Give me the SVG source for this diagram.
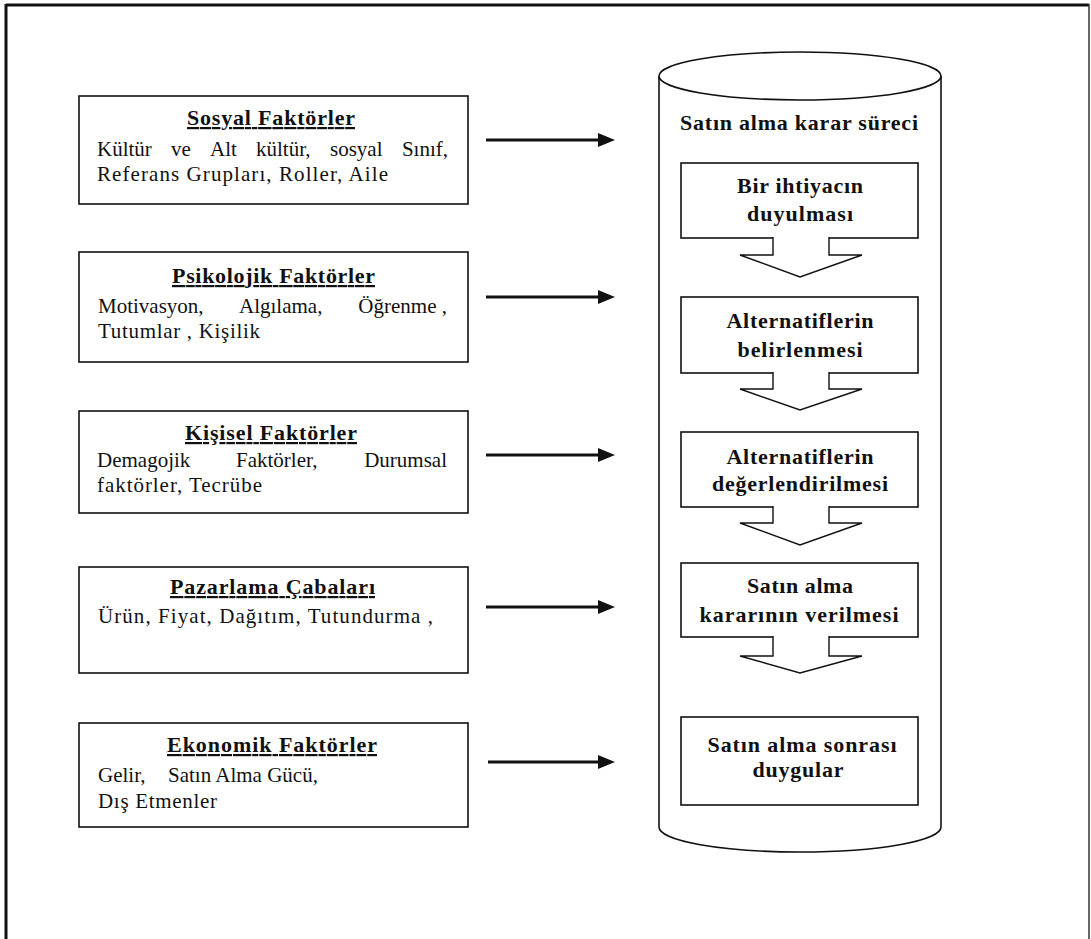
<svg xmlns="http://www.w3.org/2000/svg" width="1091" height="939" viewBox="0 0 1091 939">
<style>
.box{fill:#fff;stroke:#111;stroke-width:1.6}
.t{font-family:"Liberation Serif","Times New Roman",serif;font-size:21px;fill:#111}
.e{text-anchor:end}
.h{font-family:"Liberation Serif","Times New Roman",serif;font-size:22px;font-weight:bold;fill:#111;text-decoration:underline}
.b{font-family:"Liberation Serif","Times New Roman",serif;font-size:22px;font-weight:bold;fill:#111;text-anchor:middle}
.conn{stroke:#111;stroke-width:3;fill:none;marker-end:url(#ah)}
.blk{fill:#fff;stroke:#111;stroke-width:1.4}
</style>
<defs>
<marker id="ah" markerUnits="userSpaceOnUse" markerWidth="20" markerHeight="20" refX="2" refY="9" orient="auto">
<path d="M0,2 L17,9 L0,16 Z" fill="#111"/>
</marker>
</defs>
<rect width="1091" height="939" fill="#fff"/>
<g id="frame">
<line x1="6" y1="5" x2="1089" y2="5" stroke="#111" stroke-width="3"/>
<line x1="6" y1="4" x2="6" y2="939" stroke="#111" stroke-width="3"/>
<line x1="1089" y1="4" x2="1089" y2="939" stroke="#333" stroke-width="1.5"/>
</g>
<g id="sosyal">
<rect class="box" x="79" y="96" width="389" height="108"/>
<text class="h" x="187" y="125" textLength="168">Sosyal Faktörler</text>
<text class="t" x="97" y="156">Kültür</text>
<text class="t" x="171" y="156">ve</text>
<text class="t" x="210" y="156">Alt</text>
<text class="t" x="256" y="156">kültür,</text>
<text class="t" x="330" y="156">sosyal</text>
<text class="t e" x="448" y="156">Sınıf,</text>
<text class="t" x="97" y="181" textLength="291">Referans Grupları, Roller, Aile</text>
</g>
<g id="psikolojik">
<rect class="box" x="79" y="252" width="389" height="110"/>
<text class="h" x="172" y="283" textLength="203">Psikolojik Faktörler</text>
<text class="t" x="98" y="313">Motivasyon,</text>
<text class="t" x="239" y="313">Algılama,</text>
<text class="t e" x="447" y="313">Öğrenme ,</text>
<text class="t" x="98" y="338" textLength="162">Tutumlar , Kişilik</text>
</g>
<g id="kisisel">
<rect class="box" x="79" y="411" width="389" height="102"/>
<text class="h" x="185" y="440" textLength="172">Kişisel Faktörler</text>
<text class="t" x="97" y="467">Demagojik</text>
<text class="t" x="236" y="467">Faktörler,</text>
<text class="t e" x="447" y="467">Durumsal</text>
<text class="t" x="97" y="492" textLength="165">faktörler, Tecrübe</text>
</g>
<g id="pazarlama">
<rect class="box" x="79" y="567" width="389" height="106"/>
<text class="h" x="170" y="594" textLength="205">Pazarlama Çabaları</text>
<text class="t" x="98" y="623" textLength="335">Ürün, Fiyat, Dağıtım, Tutundurma ,</text>
</g>
<g id="ekonomik">
<rect class="box" x="79" y="723" width="389" height="104"/>
<text class="h" x="167" y="752" textLength="210">Ekonomik Faktörler</text>
<text class="t" x="98" y="782">Gelir,</text>
<text class="t" x="168" y="782">Satın Alma Gücü,</text>
<text class="t" x="98" y="808" textLength="119">Dış Etmenler</text>
</g>
<g id="connectors">
<line class="conn" x1="486" y1="140" x2="600" y2="140"/>
<line class="conn" x1="486" y1="297" x2="600" y2="297"/>
<line class="conn" x1="486" y1="455" x2="600" y2="455"/>
<line class="conn" x1="486" y1="607" x2="600" y2="607"/>
<line class="conn" x1="488" y1="762" x2="600" y2="762"/>
</g>
<g id="cylinder">
<path d="M659,76 V827 A141,25 0 0,0 941,827 V76" fill="#fff" stroke="#111" stroke-width="1.6"/>
<ellipse cx="800" cy="76" rx="141" ry="24" fill="#fff" stroke="#111" stroke-width="1.6"/>
<text class="b" x="799" y="130" textLength="238">Satın alma karar süreci</text>
</g>
<g id="step1">
<rect class="box" x="681" y="163" width="237" height="75"/>
<text class="b" x="800" y="193" textLength="126">Bir ihtiyacın</text>
<text class="b" x="800" y="221" textLength="106">duyulması</text>
<path class="blk" d="M773,237 V255 H740 L800,277 L862,255 H829 V237"/>
</g>
<g id="step2">
<rect class="box" x="681" y="297" width="237" height="76"/>
<text class="b" x="800" y="328" textLength="147">Alternatiflerin</text>
<text class="b" x="800" y="357" textLength="125">belirlenmesi</text>
<path class="blk" d="M773,372 V389 H740 L800,410 L862,389 H829 V372"/>
</g>
<g id="step3">
<rect class="box" x="681" y="432" width="237" height="75"/>
<text class="b" x="800" y="464" textLength="147">Alternatiflerin</text>
<text class="b" x="800" y="491" textLength="176">değerlendirilmesi</text>
<path class="blk" d="M773,506 V523 H740 L800,545 L862,523 H829 V506"/>
</g>
<g id="step4">
<rect class="box" x="681" y="563" width="237" height="74"/>
<text class="b" x="800" y="593" textLength="106">Satın alma</text>
<text class="b" x="799" y="622" textLength="199">kararının verilmesi</text>
<path class="blk" d="M773,636 V656 H740 L800,673 L862,656 H829 V636"/>
</g>
<g id="step5">
<rect class="box" x="681" y="717" width="237" height="88"/>
<text class="b" x="802" y="752" textLength="189">Satın alma sonrası</text>
<text class="b" x="798" y="777" textLength="91">duygular</text>
</g>
</svg>
